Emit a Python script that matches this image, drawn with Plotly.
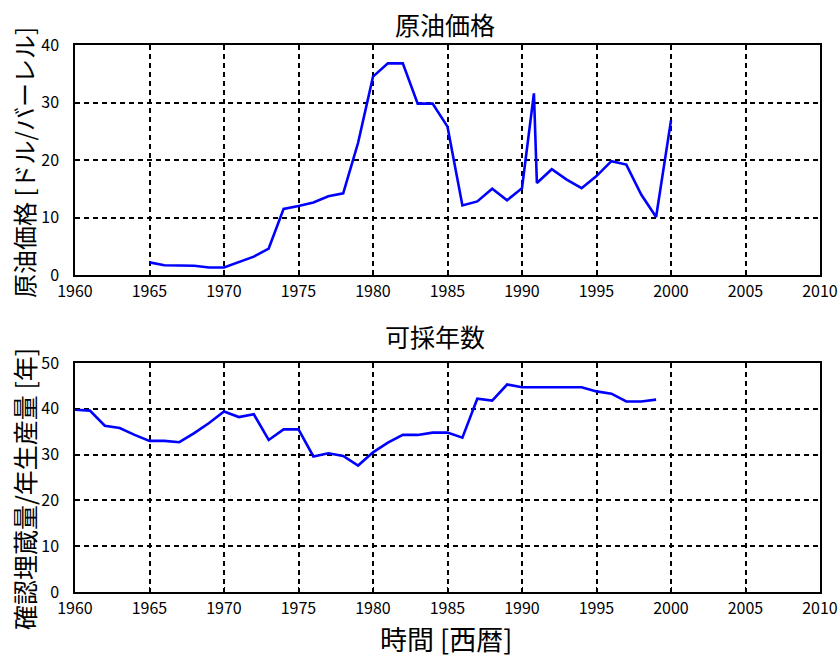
import plotly.graph_objects as go
from plotly.subplots import make_subplots

# Crude oil price [USD/barrel]
price_years = [1965, 1966, 1968, 1969, 1970, 1971, 1972, 1973, 1974, 1975, 1976, 1977, 1978,
               1979, 1980, 1981, 1982, 1983, 1984, 1985, 1986, 1987, 1988, 1989, 1990,
               1990.8, 1991, 1992, 1993, 1994, 1995, 1996, 1997, 1998, 1999, 2000]
price_vals = [2.2, 1.7, 1.6, 1.3, 1.3, 2.2, 3.2, 4.6, 11.5, 12.0, 12.6, 13.7, 14.2,
              23.0, 34.5, 36.8, 36.8, 29.8, 29.8, 25.8, 12.1, 12.8, 15.0, 13.0, 15.1,
              31.6, 16.0, 18.4, 16.6, 15.1, 17.2, 19.8, 19.2, 14.0, 10.1, 26.9]

# Reserves-to-production ratio [years]
rp_years = [1960, 1961, 1962, 1963, 1964, 1965, 1966, 1967, 1968, 1969, 1970, 1971, 1972,
            1973, 1974, 1975, 1976, 1977, 1978, 1979, 1980, 1981, 1982, 1983, 1984, 1985,
            1986, 1987, 1988, 1989, 1990, 1991, 1992, 1993, 1994, 1995, 1996, 1997, 1998, 1999]
rp_vals = [39.8, 39.6, 36.3, 35.8, 34.3, 33.0, 33.0, 32.7, 34.7, 36.9, 39.4, 38.2, 38.8,
           33.2, 35.5, 35.5, 29.6, 30.3, 29.7, 27.6, 30.5, 32.6, 34.3, 34.3, 34.8, 34.8,
           33.7, 42.2, 41.8, 45.3, 44.7, 44.7, 44.7, 44.7, 44.7, 43.8, 43.3, 41.6, 41.6, 42.0]

x_ticks = list(range(1960, 2011, 5))
top_title = "原油価格"
bottom_title = "可採年数"
top_ylabel = "原油価格 [ドル/バーレル]"
bottom_ylabel = "確認埋蔵量/年生産量 [年]"
xlabel = "時間 [西暦]"

FONT = "Noto Sans CJK JP"
W, H = 840, 657
ML, MR, MT, MB = 75, 20, 45, 65
PH = H - MT - MB
PW = W - ML - MR

def py(pix):
    return 1 - (pix - MT) / PH

def px(pix):
    return (pix - ML) / PW

fig = make_subplots(rows=2, cols=1)
fig.add_trace(go.Scatter(x=price_years, y=price_vals, mode="lines",
                         line=dict(color="#0000ff", width=2.6), showlegend=False), row=1, col=1)
fig.add_trace(go.Scatter(x=rp_years, y=rp_vals, mode="lines",
                         line=dict(color="#0000ff", width=2.6), showlegend=False), row=2, col=1)

axis_common = dict(showline=True, linecolor="black", linewidth=1.5, mirror=True,
                   showgrid=True, gridcolor="black", gridwidth=1.5, griddash="5px,4px",
                   ticks="inside", ticklen=5, tickcolor="black", zeroline=False,
                   automargin=False,
                   tickfont=dict(family=FONT, size=16, color="black"))

fig.update_layout(
    width=W, height=H, autosize=False,
    margin=dict(l=ML, r=MR, t=MT, b=MB),
    paper_bgcolor="white", plot_bgcolor="white",
    font=dict(family=FONT, color="black"),
    xaxis=dict(domain=[0, 1], range=[1960, 2010], tickvals=x_ticks, anchor="y",
               ticklabelstandoff=1, **axis_common),
    yaxis=dict(domain=[py(275), 1], range=[0, 40], dtick=10, anchor="x",
               ticklabelstandoff=11, **axis_common),
    xaxis2=dict(domain=[0, 1], range=[1960, 2010], tickvals=x_ticks, anchor="y2",
                ticklabelstandoff=1, **axis_common),
    yaxis2=dict(domain=[0, py(363)], range=[0, 50], dtick=10, anchor="x2",
                ticklabelstandoff=11, **axis_common),
)

ann = []
ann.append(dict(text=top_title, x=px(445), y=py(24), xref="paper", yref="paper",
                showarrow=False, font=dict(family=FONT, size=25), xanchor="center", yanchor="middle"))
ann.append(dict(text=bottom_title, x=px(435), y=py(336), xref="paper", yref="paper",
                showarrow=False, font=dict(family=FONT, size=25), xanchor="center", yanchor="middle"))
ann.append(dict(text=xlabel, x=px(446), y=py(638), xref="paper", yref="paper",
                showarrow=False, font=dict(family=FONT, size=27), xanchor="center", yanchor="middle"))
ann.append(dict(text=top_ylabel, x=px(24), y=py(163), xref="paper", yref="paper", textangle=-90,
                showarrow=False, font=dict(family=FONT, size=24), xanchor="center", yanchor="middle"))
ann.append(dict(text=bottom_ylabel, x=px(24), y=py(489), xref="paper", yref="paper", textangle=-90,
                showarrow=False, font=dict(family=FONT, size=25), xanchor="center", yanchor="middle"))
fig.update_layout(annotations=ann)

fig.write_html("out.html", config={"displayModeBar": False, "responsive": False},
               post_script="document.body.style.margin='0';"
                           "document.documentElement.style.overflow='hidden';"
                           "document.body.style.overflow='hidden';")
